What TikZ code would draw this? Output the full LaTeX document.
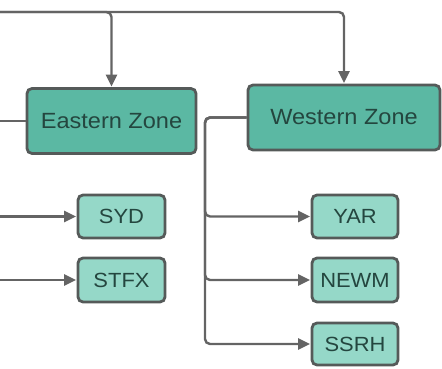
\documentclass[tikz,border=0pt]{standalone}
\usepackage{fontspec}
\setmainfont{Liberation Sans}[FakeStretch=1.07]
\usetikzlibrary{arrows.meta}
\definecolor{zonefill}{HTML}{5BB8A3}
\definecolor{leaffill}{HTML}{95D8C8}
\definecolor{edgegray}{HTML}{555A59}
\definecolor{linegray}{HTML}{646464}
\definecolor{txt}{HTML}{24463F}
\tikzset{
  zone/.style={draw=edgegray, line width=2.8pt, fill=zonefill, rounded corners=5pt,
    text=txt, font=\fontsize{22}{26}\selectfont, inner sep=0pt},
  leaf/.style={draw=edgegray, line width=2.8pt, fill=leaffill, rounded corners=5pt,
    text=txt, font=\fontsize{20.5}{24}\selectfont, inner sep=0pt},
  conn/.style={draw=linegray, line width=2.4pt, rounded corners=5pt},
  arr/.style={conn, -{Triangle[length=12pt,width=11pt]}, shorten >=0.5pt},
}
\begin{document}
\begin{tikzpicture}[x=1pt,y=-1pt]
\useasboundingbox (0,0) rectangle (442,369);
\node[zone, minimum width=169pt, minimum height=65pt] (ez) at (111.5,121) {Eastern Zone};
\node[zone, minimum width=192pt, minimum height=65pt] (wz) at (344,117.5) {Western Zone};
\node[leaf, minimum width=87pt, minimum height=43pt] (syd) at (121.5,216.5) {SYD};
\node[leaf, minimum width=87pt, minimum height=44pt] (stfx) at (121.5,280) {STFX};
\node[leaf, minimum width=86pt, minimum height=43pt] (yar) at (355,216.5) {YAR};
\node[leaf, minimum width=86pt, minimum height=44pt] (newm) at (355,280) {NEWM};
\node[leaf, minimum width=86pt, minimum height=42pt] (ssrh) at (355,344) {SSRH};
\coordinate (top) at (0,12);
\coordinate (lez) at (0,121);
\coordinate (lsyd) at (0,216.5);
\coordinate (lstfx) at (0,280);
\coordinate (trunk) at (205,0);
\draw[arr] (top) -| (wz.north);
\draw[arr] (top) -| (ez.north);
\draw[conn] (lez) -- (ez.west);
\draw[arr] (lsyd) -- (syd.west);
\draw[arr] (lstfx) -- (stfx.west);
\draw[arr] (wz.west) -| (trunk |- yar.west) -- (yar.west);
\draw[arr] (wz.west) -| (trunk |- newm.west) -- (newm.west);
\draw[arr] (wz.west) -| (trunk |- ssrh.west) -- (ssrh.west);
\end{tikzpicture}
\end{document}
